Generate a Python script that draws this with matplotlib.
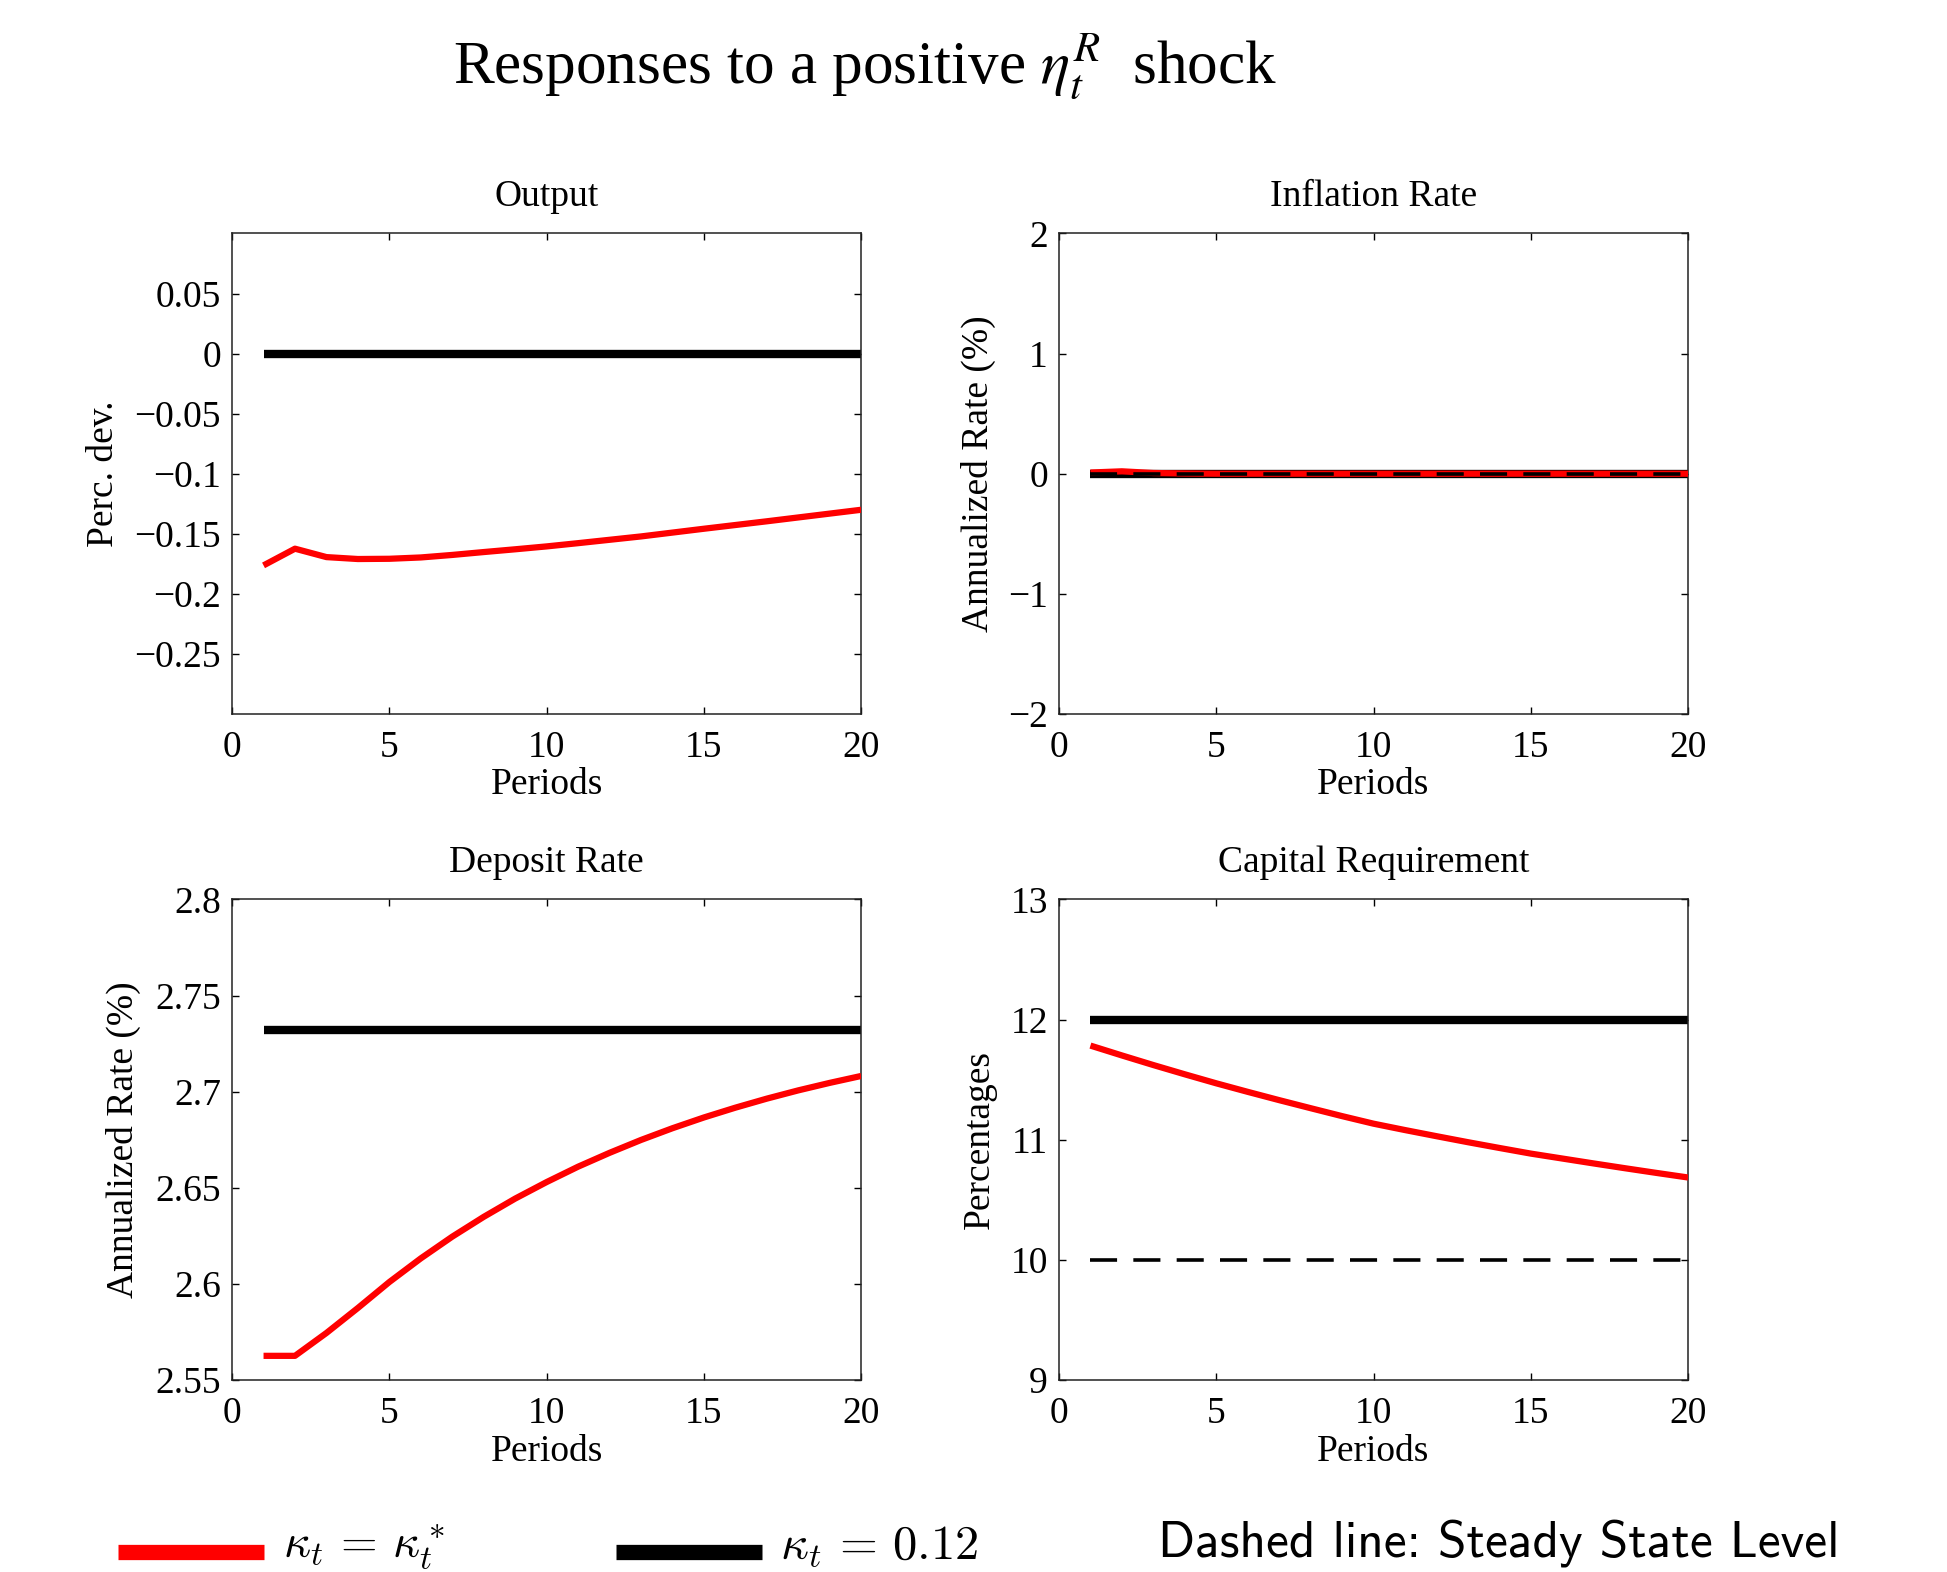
import matplotlib
matplotlib.use("Agg")
import matplotlib.pyplot as plt
from matplotlib.lines import Line2D
from matplotlib.ticker import FuncFormatter

plt.rcParams['font.family'] = ['Liberation Serif', 'DejaVu Serif']
plt.rcParams['mathtext.fontset'] = 'cm'

periods = list(range(1, 21))

output_opt = [-0.1763, -0.1624, -0.1694, -0.1710, -0.1708, -0.1697, -0.1676, -0.1652, -0.1629,
              -0.1605, -0.1578, -0.1550, -0.1522, -0.1490, -0.1458, -0.1427, -0.1396,
              -0.1364, -0.1332, -0.1300]
output_fix = [0.0] * 20
output_ss = 0.0

infl_opt = [0.01, 0.02, 0.006, 0.002, 0.0, 0.0, 0.0, 0.0, 0.0, 0.0, 0.0, 0.0, 0.0, 0.0,
            0.0, 0.0, 0.0, 0.0, 0.0, 0.0]
infl_fix = [0.0] * 20
infl_ss = 0.0

dep_opt = [2.5626, 2.5626, 2.5745, 2.5875, 2.6010, 2.6133, 2.6246, 2.6349, 2.6444, 2.6530,
           2.6610, 2.6682, 2.6749, 2.6810, 2.6866, 2.6917, 2.6964, 2.7007, 2.7046, 2.7082]
dep_fix = [2.7322] * 20
dep_ss = 2.7322

cap_opt = [11.784, 11.702, 11.622, 11.545, 11.470, 11.399, 11.330, 11.263, 11.197, 11.134,
           11.081, 11.030, 10.980, 10.932, 10.885, 10.844, 10.803, 10.763, 10.724, 10.686]
cap_fix = [12.0] * 20
cap_ss = 10.0

panels = [
    dict(title="Output", ylabel="Perc. dev.", opt=output_opt, fix=output_fix, ss=output_ss,
         ylim=(-0.3, 0.1), yticks=[-0.25, -0.2, -0.15, -0.1, -0.05, 0, 0.05], show_ss=False,
         labx=-0.177),
    dict(title="Inflation Rate", ylabel="Annualized Rate (%)", opt=infl_opt, fix=infl_fix,
         ss=infl_ss, ylim=(-2, 2), yticks=[-2, -1, 0, 1, 2], show_ss=True, labx=-0.100),
    dict(title="Deposit Rate", ylabel="Annualized Rate (%)", opt=dep_opt, fix=dep_fix,
         ss=dep_ss, ylim=(2.55, 2.8), yticks=[2.55, 2.6, 2.65, 2.7, 2.75, 2.8], show_ss=False,
         labx=-0.144),
    dict(title="Capital Requirement", ylabel="Percentages", opt=cap_opt, fix=cap_fix,
         ss=cap_ss, ylim=(9, 13), yticks=[9, 10, 11, 12, 13], show_ss=True, labx=-0.098),
]

fig = plt.figure(figsize=(19.47, 15.72), dpi=100)

lefts = [0.1192, 0.5439]
bottoms = [0.5458, 0.1221]
w, h = 0.3231, 0.3057

fmt = FuncFormatter(lambda v, p: f"{v:g}".replace('-', '\u2212'))

for i, pnl in enumerate(panels):
    ax = fig.add_axes([lefts[i % 2], bottoms[i // 2], w, h])
    ax.plot(periods, pnl['fix'], color='black', lw=6.0, solid_capstyle='butt', zorder=2)
    ax.plot(periods, pnl['opt'], color='red', lw=4.5, solid_capstyle='butt', zorder=3)
    if pnl['show_ss']:
        ax.plot(periods, [pnl['ss']] * len(periods), color='black', lw=2.6,
                dashes=(7.5, 4.5), zorder=4)
    ax.set_xlim(0, 20)
    ax.set_ylim(*pnl['ylim'])
    ax.set_xticks([0, 5, 10, 15, 20])
    ax.set_yticks(pnl['yticks'])
    ax.yaxis.set_major_formatter(fmt)
    ax.xaxis.set_major_formatter(fmt)
    ax.tick_params(direction='in', length=5, width=1.0, top=True, right=True,
                   labelsize=27, pad=8)
    ax.tick_params(axis='x', pad=12)
    for s in ax.spines.values():
        s.set_linewidth(1.1)
        s.set_color('#222222')
    ax.set_title(pnl['title'], fontsize=27, pad=20)
    ax.set_xlabel("Periods", fontsize=27, labelpad=2)
    ax.set_ylabel(pnl['ylabel'], fontsize=27)
    ax.yaxis.set_label_coords(pnl['labx'], 0.5)

fig.text(0.4445, 0.958, r"Responses to a positive $\eta_t^R$  shock", fontsize=44,
         ha='center', va='center', math_fontfamily='stix')

# legend keys
fig.add_artist(Line2D([118 / 1947, 264 / 1947], [1 - 1552 / 1572] * 2, color='red', lw=11,
                      solid_capstyle='butt'))
fig.text(283 / 1947, 1 - 1547 / 1572, r"$\kappa_t\,=\,\kappa_t^*$", fontsize=34,
         ha='left', va='center')
fig.add_artist(Line2D([616 / 1947, 762 / 1947], [1 - 1552 / 1572] * 2, color='black', lw=11,
                      solid_capstyle='butt'))
fig.text(780 / 1947, 1 - 1547 / 1572, r"$\kappa_t\,=\,0.12$", fontsize=35,
         ha='left', va='center')
fig.text(1158 / 1947, 1 - 1543 / 1572, "Dashed line: Steady State Level", fontsize=37,
         ha='left', va='center', family=['cmss10', 'DejaVu Sans'])

fig.savefig("out.png", dpi=100)
